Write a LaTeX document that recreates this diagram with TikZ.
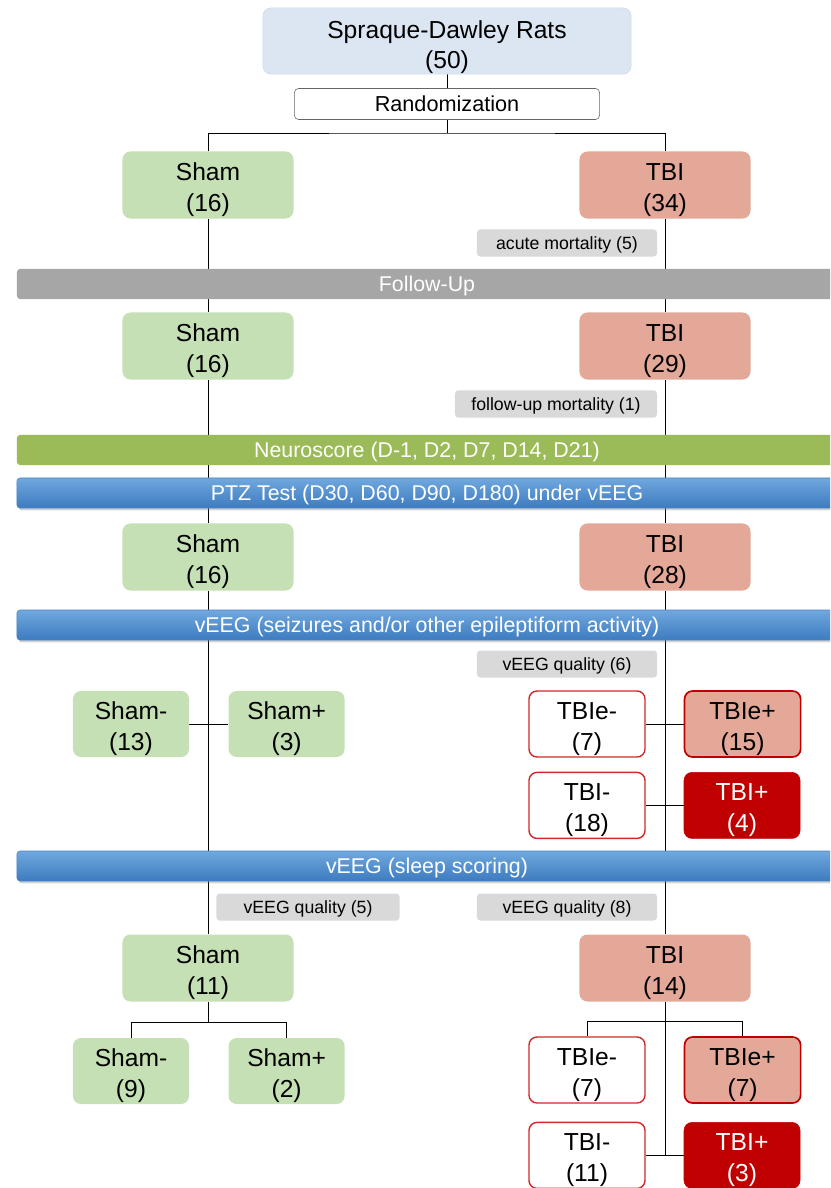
\documentclass[tikz,border=0pt]{standalone}
\usepackage{fontspec}
\setmainfont{Liberation Sans}
\usetikzlibrary{positioning,backgrounds,shadows}

\definecolor{topblue}{HTML}{DCE6F2}
\definecolor{topedge}{HTML}{CCDAEC}
\definecolor{shamgreen}{HTML}{C5E0B4}
\definecolor{tbisalmon}{HTML}{E3A898}
\definecolor{tbidark}{HTML}{C00000}
\definecolor{negedge}{HTML}{D02828}
\definecolor{notegray}{HTML}{D9D9D9}
\definecolor{followgray}{HTML}{A6A6A6}
\definecolor{scoregreen}{HTML}{9BBB59}
\definecolor{barblue}{HTML}{4A86C8}
\definecolor{barlight}{HTML}{70A8DE}
\definecolor{bardark}{HTML}{3D7BC0}

\begin{document}
\begin{tikzpicture}[x=0.025cm, y=-0.025cm,
		box/.style={rounded corners=0.2cm, align=center, inner sep=0pt, text height=41pt, font=\fontsize{17.5}{22}\selectfont},
		group/.style={box, minimum width=4.275cm, minimum height=1.675cm},
		sham/.style={group, fill=shamgreen},
		tbi/.style={group, fill=tbisalmon},
		sub/.style={box, minimum width=2.9cm, minimum height=1.65cm},
		shamsub/.style={sub, fill=shamgreen},
		tbineg/.style={sub, fill=white, draw=negedge, line width=1pt},
		tbiepos/.style={sub, fill=tbisalmon, draw=tbidark, line width=1.2pt},
		tbipos/.style={sub, fill=tbidark, draw=tbidark, text=white},
		note/.style={rounded corners=0.08cm, fill=notegray, minimum height=0.675cm, inner sep=0pt, text depth=0pt, font=\fontsize{12.6}{15}\selectfont},
		bar/.style={rounded corners=0.08cm, minimum width=20.5cm, minimum height=0.75cm, inner sep=0pt, text depth=0pt, text=white, font=\fontsize{15.2}{18}\selectfont},
		bluebar/.style={bar, top color=barlight, bottom color=bardark, draw=barblue, drop shadow={opacity=0.35, shadow xshift=0.04cm, shadow yshift=-0.06cm}}
	]
		\clip (0,0) rectangle (830,1188);
		\useasboundingbox (0,0) rectangle (830,1188);

		% start
		\node[box, text height=43.4pt, fill=topblue, draw=topedge, minimum width=9.2cm, minimum height=1.575cm] (rats) at (447,41) {Spraque-Dawley Rats\\(50)};
		\node[rounded corners=0.1cm, draw=black!60, fill=white, minimum width=7.625cm, minimum height=0.775cm, inner sep=0pt, font=\fontsize{15.4}{18}\selectfont] (rand) at (447,104) {Randomization};
		\coordinate (split) at (447,133);

		% groups
		\node[sham] (sham1) at (208,185) {Sham\\(16)};
		\node[tbi] (tbi1) at (665,185) {TBI\\(34)};
		\node[note, minimum width=4.5cm] (acute) at (567,243) {acute mortality (5)};
		\node[bar, fill=followgray] (follow) at (427,284) {Follow-Up};

		\node[sham] (sham2) at (208,346) {Sham\\(16)};
		\node[tbi] (tbi2) at (665,346) {TBI\\(29)};
		\node[note, minimum width=5.05cm] (fumort) at (556,404) {follow-up mortality (1)};
		\node[bar, fill=scoregreen] (neuro) at (427,450) {Neuroscore (D-1, D2, D7, D14, D21)};
		\node[bluebar] (ptz) at (427,493) {PTZ Test (D30, D60, D90, D180) under vEEG};

		\node[sham] (sham3) at (208,557) {Sham\\(16)};
		\node[tbi] (tbi3) at (665,557) {TBI\\(28)};
		\node[bluebar] (veegsz) at (427,625) {vEEG (seizures and/or other epileptiform activity)};
		\node[note, minimum width=4.5cm] (qual6) at (567,664) {vEEG quality (6)};

		% seizure outcome
		\node[shamsub] (shamneg1) at (131,724) {Sham-\\(13)};
		\node[shamsub, right=0.975cm of shamneg1] (shampos1) {Sham+\\(3)};
		\node[tbineg] (tbieneg1) at (587,724) {TBIe-\\(7)};
		\node[tbiepos, right=0.95cm of tbieneg1] (tbiepos1) {TBIe+\\(15)};
		\node[tbineg, below=0.35cm of tbieneg1] (tbineg1) {TBI-\\(18)};
		\node[tbipos, right=0.95cm of tbineg1] (tbipos1) {TBI+\\(4)};

		\node[bluebar] (veegsl) at (427,866) {vEEG (sleep scoring)};
		\node[note, minimum width=4.575cm] (qual5) at (308,907) {vEEG quality (5)};
		\node[note, minimum width=4.5cm] (qual8) at (567,907) {vEEG quality (8)};

		% sleep outcome
		\node[sham] (sham4) at (208,968) {Sham\\(11)};
		\node[tbi] (tbi4) at (665,968) {TBI\\(14)};
		\coordinate (shambr) at (208,1022);
		\coordinate (tbibr) at (665,1021);
		\node[shamsub] (shamneg2) at (131,1071) {Sham-\\(9)};
		\node[shamsub, right=0.975cm of shamneg2] (shampos2) {Sham+\\(2)};
		\node[tbineg] (tbieneg2) at (587,1070) {TBIe-\\(7)};
		\node[tbiepos, right=0.95cm of tbieneg2] (tbiepos2) {TBIe+\\(7)};
		\node[tbineg, below=0.45cm of tbieneg2] (tbineg2) {TBI-\\(11)};
		\node[tbipos, right=0.95cm of tbineg2] (tbipos2) {TBI+\\(3)};

		\begin{scope}[on background layer, line width=0.9pt]
			\draw (rats) -- (rand);
			\draw (rand) -- (split);
			\draw (sham1.north) |- (split) -| (tbi1.north);
			\draw (sham1) -- (sham2) -- (sham3) -- (sham4);
			\draw (tbi1) -- (tbi2) -- (tbi3) -- (tbi4);
			\draw (shamneg1) -- (shampos1);
			\draw (tbieneg1) -- (tbiepos1);
			\draw (tbineg1) -- (tbipos1);
			\draw (sham4) -- (shambr);
			\draw (shamneg2.north) |- (shambr) -| (shampos2.north);
			\draw (tbi4) -- (tbi4 |- tbineg2);
			\draw (tbieneg2.north) |- (tbibr) -| (tbiepos2.north);
			\draw (tbineg2) -- (tbipos2);
		\end{scope}
	\end{tikzpicture}
\end{document}
